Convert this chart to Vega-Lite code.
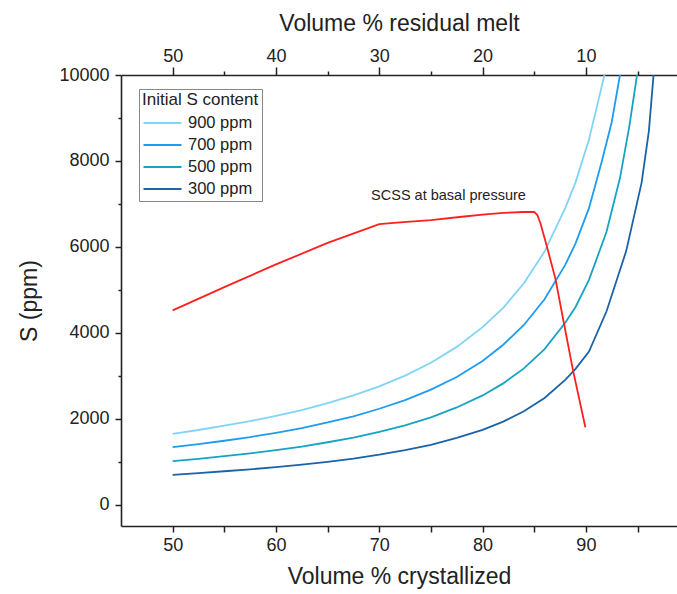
{
  "$schema": "https://vega.github.io/schema/vega-lite/v6.json",
  "width": 556,
  "height": 451,
  "autosize": {"type": "none"},
  "padding": {"left": 121, "top": 75, "right": 0, "bottom": 68},
  "background": "white",
  "config": {
    "view": {"stroke": null},
    "font": "Liberation Sans",
    "axis": {
      "grid": false,
      "domainColor": "#222222",
      "tickColor": "#222222",
      "labelColor": "#222222",
      "titleColor": "#222222",
      "labelFont": "Liberation Sans",
      "titleFont": "Liberation Sans",
      "titleFontWeight": "normal",
      "labelFontSize": 18,
      "titleFontSize": 23,
      "tickWidth": 1.5,
      "domainWidth": 1.6
    }
  },
  "datasets": {
    "curves": [
      {"series": "900 ppm", "x": 50, "y": 1645},
      {"series": "900 ppm", "x": 52.5, "y": 1735},
      {"series": "900 ppm", "x": 55, "y": 1835},
      {"series": "900 ppm", "x": 57.5, "y": 1940},
      {"series": "900 ppm", "x": 60, "y": 2065},
      {"series": "900 ppm", "x": 62.5, "y": 2200},
      {"series": "900 ppm", "x": 65, "y": 2360},
      {"series": "900 ppm", "x": 67.5, "y": 2540},
      {"series": "900 ppm", "x": 70, "y": 2750},
      {"series": "900 ppm", "x": 72.5, "y": 3000},
      {"series": "900 ppm", "x": 75, "y": 3300},
      {"series": "900 ppm", "x": 77.5, "y": 3670},
      {"series": "900 ppm", "x": 80, "y": 4130},
      {"series": "900 ppm", "x": 82, "y": 4580},
      {"series": "900 ppm", "x": 84, "y": 5150},
      {"series": "900 ppm", "x": 86, "y": 5890},
      {"series": "900 ppm", "x": 88, "y": 6900},
      {"series": "900 ppm", "x": 89, "y": 7500},
      {"series": "900 ppm", "x": 90.3, "y": 8500},
      {"series": "900 ppm", "x": 91, "y": 9200},
      {"series": "900 ppm", "x": 91.8, "y": 10000},
      {"series": "700 ppm", "x": 50, "y": 1335},
      {"series": "700 ppm", "x": 52.5, "y": 1405},
      {"series": "700 ppm", "x": 55, "y": 1485},
      {"series": "700 ppm", "x": 57.5, "y": 1570},
      {"series": "700 ppm", "x": 60, "y": 1670},
      {"series": "700 ppm", "x": 62.5, "y": 1780},
      {"series": "700 ppm", "x": 65, "y": 1910},
      {"series": "700 ppm", "x": 67.5, "y": 2055},
      {"series": "700 ppm", "x": 70, "y": 2230},
      {"series": "700 ppm", "x": 72.5, "y": 2430},
      {"series": "700 ppm", "x": 75, "y": 2675},
      {"series": "700 ppm", "x": 77.5, "y": 2970},
      {"series": "700 ppm", "x": 80, "y": 3340},
      {"series": "700 ppm", "x": 82, "y": 3720},
      {"series": "700 ppm", "x": 84, "y": 4180},
      {"series": "700 ppm", "x": 86, "y": 4780},
      {"series": "700 ppm", "x": 88, "y": 5580},
      {"series": "700 ppm", "x": 89, "y": 6080},
      {"series": "700 ppm", "x": 90.3, "y": 6900},
      {"series": "700 ppm", "x": 91.5, "y": 7950},
      {"series": "700 ppm", "x": 92.5, "y": 8900},
      {"series": "700 ppm", "x": 93.3, "y": 10000},
      {"series": "500 ppm", "x": 50, "y": 1010},
      {"series": "500 ppm", "x": 52.5, "y": 1065},
      {"series": "500 ppm", "x": 55, "y": 1125},
      {"series": "500 ppm", "x": 57.5, "y": 1190},
      {"series": "500 ppm", "x": 60, "y": 1265},
      {"series": "500 ppm", "x": 62.5, "y": 1350},
      {"series": "500 ppm", "x": 65, "y": 1450},
      {"series": "500 ppm", "x": 67.5, "y": 1560},
      {"series": "500 ppm", "x": 70, "y": 1690},
      {"series": "500 ppm", "x": 72.5, "y": 1845},
      {"series": "500 ppm", "x": 75, "y": 2030},
      {"series": "500 ppm", "x": 77.5, "y": 2260},
      {"series": "500 ppm", "x": 80, "y": 2540},
      {"series": "500 ppm", "x": 82, "y": 2820},
      {"series": "500 ppm", "x": 84, "y": 3170},
      {"series": "500 ppm", "x": 86, "y": 3620},
      {"series": "500 ppm", "x": 88, "y": 4230},
      {"series": "500 ppm", "x": 89, "y": 4600},
      {"series": "500 ppm", "x": 90.3, "y": 5230},
      {"series": "500 ppm", "x": 92, "y": 6350},
      {"series": "500 ppm", "x": 93.3, "y": 7600},
      {"series": "500 ppm", "x": 94.2, "y": 8800},
      {"series": "500 ppm", "x": 94.95, "y": 10000},
      {"series": "300 ppm", "x": 50, "y": 690},
      {"series": "300 ppm", "x": 52.5, "y": 730},
      {"series": "300 ppm", "x": 55, "y": 775},
      {"series": "300 ppm", "x": 57.5, "y": 820},
      {"series": "300 ppm", "x": 60, "y": 870},
      {"series": "300 ppm", "x": 62.5, "y": 930},
      {"series": "300 ppm", "x": 65, "y": 995},
      {"series": "300 ppm", "x": 67.5, "y": 1070},
      {"series": "300 ppm", "x": 70, "y": 1160},
      {"series": "300 ppm", "x": 72.5, "y": 1265},
      {"series": "300 ppm", "x": 75, "y": 1390},
      {"series": "300 ppm", "x": 77.5, "y": 1550},
      {"series": "300 ppm", "x": 80, "y": 1740},
      {"series": "300 ppm", "x": 82, "y": 1930},
      {"series": "300 ppm", "x": 84, "y": 2170},
      {"series": "300 ppm", "x": 86, "y": 2480},
      {"series": "300 ppm", "x": 88, "y": 2900},
      {"series": "300 ppm", "x": 89, "y": 3160},
      {"series": "300 ppm", "x": 90.3, "y": 3560},
      {"series": "300 ppm", "x": 92, "y": 4500},
      {"series": "300 ppm", "x": 93.9, "y": 5900},
      {"series": "300 ppm", "x": 95.4, "y": 7500},
      {"series": "300 ppm", "x": 96.1, "y": 8700},
      {"series": "300 ppm", "x": 96.55, "y": 10000}
    ],
    "scss": [
      {"x": 50, "y": 4520},
      {"x": 55, "y": 5060},
      {"x": 60, "y": 5590},
      {"x": 65, "y": 6090},
      {"x": 70, "y": 6530},
      {"x": 72, "y": 6570},
      {"x": 75, "y": 6620},
      {"x": 78, "y": 6700},
      {"x": 80, "y": 6750},
      {"x": 82, "y": 6790},
      {"x": 84, "y": 6810},
      {"x": 85, "y": 6815},
      {"x": 85.3, "y": 6740},
      {"x": 85.6, "y": 6550},
      {"x": 86.2, "y": 6030},
      {"x": 87.05, "y": 5260},
      {"x": 87.85, "y": 4250},
      {"x": 88.75, "y": 3130},
      {"x": 89.95, "y": 1800}
    ],
    "label": [
      {"x": 76.7, "y": 7190, "text": "SCSS at basal pressure"}
    ]
  },
  "layer": [
    {
      "data": {"name": "curves"},
      "mark": {"type": "line", "strokeWidth": 1.8, "clip": true},
      "encoding": {
        "x": {
          "field": "x", "type": "quantitative",
          "scale": {"domain": [45, 98.82], "nice": false, "zero": false},
          "axis": {"orient": "bottom", "values": [50, 60, 70, 80, 90], "format": "d", "tickSize": 6, "labelPadding": 4, "title": "Volume % crystallized", "titlePadding": 11}
        },
        "y": {
          "field": "y", "type": "quantitative",
          "scale": {"domain": [-500, 10000], "nice": false, "zero": false},
          "axis": {"orient": "left", "values": [0, 2000, 4000, 6000, 8000, 10000], "format": "d", "tickSize": 6, "labelPadding": 6, "title": "S (ppm)", "titlePadding": 17}
        },
        "color": {
          "field": "series", "type": "nominal",
          "scale": {"domain": ["900 ppm", "700 ppm", "500 ppm", "300 ppm"], "range": ["#80d4f8", "#1e9cf0", "#16a3c4", "#1b63a8"]},
          "legend": {
            "orient": "none", "legendX": 18, "legendY": 14,
            "title": "Initial S content", "titleFontSize": 17, "titleFontWeight": "normal", "titleColor": "#222222", "titleFont": "Liberation Sans", "titlePadding": 3,
            "labelFontSize": 16.5, "labelColor": "#222222", "labelFont": "Liberation Sans", "labelOffset": 24,
            "symbolType": "M-1,0H3", "symbolSize": 361, "symbolStrokeWidth": 2.2,
            "rowPadding": 2, "padding": 3,
            "strokeColor": "#888888", "fillColor": "white"
          }
        }
      }
    },
    {
      "data": {"name": "scss"},
      "mark": {"type": "line", "color": "#ff1f1f", "strokeWidth": 1.8},
      "encoding": {
        "x": {"field": "x", "type": "quantitative", "axis": {"orient": "bottom", "values": [55, 65, 75, 85, 95], "labels": false, "domain": false, "tickSize": 6, "title": null}},
        "y": {"field": "y", "type": "quantitative", "axis": {"orient": "left", "values": [1000, 3000, 5000, 7000, 9000], "labels": false, "domain": false, "tickSize": 3, "title": null}}
      }
    },
    {
      "data": {"name": "label"},
      "mark": {"type": "text", "fontSize": 14.5, "font": "Liberation Sans", "color": "#222222", "align": "center", "baseline": "middle"},
      "encoding": {
        "x": {"field": "x", "type": "quantitative", "axis": {"orient": "top", "values": [50, 60, 70, 80, 90], "labelExpr": "format(100 - datum.value, 'd')", "tickSize": 8, "labelPadding": 2, "title": "Volume % residual melt", "titlePadding": 12}},
        "y": {"field": "y", "type": "quantitative", "axis": null},
        "text": {"field": "text"}
      }
    },
    {
      "data": {"name": "scss"},
      "mark": {"type": "point", "opacity": 0},
      "encoding": {
        "x": {"field": "x", "type": "quantitative", "axis": {"orient": "top", "values": [55, 65, 75, 85, 95], "labels": false, "domain": false, "tickSize": 4, "title": null}},
        "y": {"field": "y", "type": "quantitative", "axis": null}
      }
    }
  ],
  "resolve": {"axis": {"x": "independent", "y": "independent"}}
}
